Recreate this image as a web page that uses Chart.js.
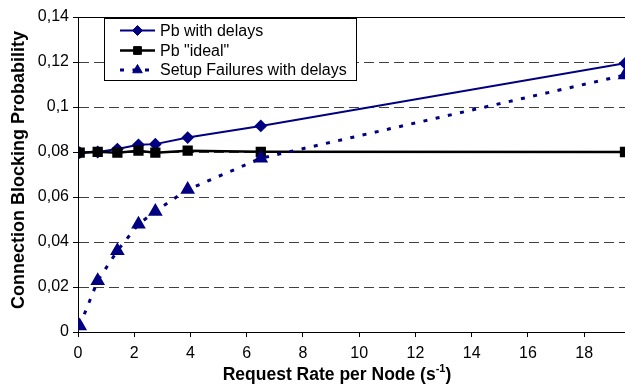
<!DOCTYPE html>
<html>
<head>
<meta charset="utf-8">
<script src="https://cdn.jsdelivr.net/npm/chart.js@4/dist/chart.umd.min.js"></script>
<style>
  html, body { margin: 0; padding: 0; background: #ffffff; }
  #wrap { width: 625px; height: 384px; }
</style>
</head>
<body>
<div id="wrap"><canvas id="chart" width="625" height="384"></canvas></div>
<script>
// Request rate per node (s^-1) for each measurement
const requestRate = [0.06, 0.7, 1.4, 2.15, 2.75, 3.9, 6.5, 19.45];
// Blocking probability with signalling delays
const pbWithDelays = [0.0797, 0.0800, 0.0813, 0.0832, 0.0835, 0.0864, 0.0916, 0.1194];
// Blocking probability, ideal signalling
const pbIdeal = [0.0797, 0.0801, 0.0797, 0.0806, 0.0797, 0.0806, 0.0801, 0.0800];
// Share of setups failing because of delays
const setupFailures = [0.0027, 0.0228, 0.0361, 0.0479, 0.0536, 0.0633, 0.0772, 0.1142];

const seriesNames = ['Pb with delays', 'Pb "ideal"', 'Setup Failures with delays'];
const xTickValues = [0, 2, 4, 6, 8, 10, 12, 14, 16, 18];
const yTickValues = [0, 0.02, 0.04, 0.06, 0.08, 0.1, 0.12, 0.14];
const yTickLabels = ['0', '0,02', '0,04', '0,06', '0,08', '0,1', '0,12', '0,14'];

const NAVY = '#000080';
const FONT = '"Liberation Sans", Arial, sans-serif';

const toPoints = (ys) => ys.map((y, i) => ({ x: requestRate[i], y }));

// Boxed legend, top frame line and the two axis titles
const decorations = {
  id: 'decorations',
  afterDatasetsDraw(chart) {
    const ctx = chart.ctx;
    const area = chart.chartArea;
    ctx.save();
    // solid frame line along the top of the plot
    ctx.strokeStyle = '#000';
    ctx.lineWidth = 1;
    ctx.beginPath();
    ctx.moveTo(area.left, Math.round(area.top) + 0.5);
    ctx.lineTo(area.right, Math.round(area.top) + 0.5);
    ctx.stroke();

    // legend box
    const bx = 104.5, by = 18.5, bw = 252, bh = 62;
    ctx.fillStyle = '#fff';
    ctx.fillRect(bx, by, bw, bh);
    ctx.strokeStyle = '#000';
    ctx.lineWidth = 1;
    ctx.strokeRect(bx, by, bw, bh);

    const rows = [30.5, 50.5, 70];
    chart.data.datasets.forEach((ds, i) => {
      const y = rows[i];
      ctx.save();
      ctx.strokeStyle = ds.borderColor;
      ctx.lineWidth = ds.borderWidth;
      ctx.setLineDash(ds.borderDash || []);
      ctx.beginPath();
      ctx.moveTo(120, y);
      ctx.lineTo(155, y);
      ctx.stroke();
      ctx.restore();
      ctx.fillStyle = ds.pointBackgroundColor;
      ctx.strokeStyle = ds.pointBorderColor;
      Chart.helpers.drawPoint(ctx, {
        pointStyle: ds.pointStyle, radius: ds.pointRadius, rotation: 0, borderWidth: 1
      }, 137.5, y);
      ctx.fillStyle = '#000';
      ctx.font = '16px ' + FONT;
      ctx.textAlign = 'left';
      ctx.textBaseline = 'middle';
      ctx.fillText(ds.label, 160, y + 1);
    });
    ctx.restore();
  },
  afterDraw(chart) {
    const ctx = chart.ctx;
    const area = chart.chartArea;
    ctx.save();
    ctx.fillStyle = '#000';
    ctx.textBaseline = 'middle';

    // y axis title
    ctx.save();
    ctx.translate(19, 170);
    ctx.rotate(-Math.PI / 2);
    ctx.font = 'bold 18px ' + FONT;
    ctx.textAlign = 'center';
    ctx.fillText('Connection Blocking Probability', 0, 0);
    ctx.restore();

    // x axis title with superscript unit
    const main = 'Request Rate per Node (s';
    const sup = '-1';
    const close = ')';
    const big = 'bold 17.5px ' + FONT;
    const small = 'bold 11px ' + FONT;
    ctx.font = big;
    const w1 = ctx.measureText(main).width;
    const w3 = ctx.measureText(close).width;
    ctx.font = small;
    const w2 = ctx.measureText(sup).width;
    const total = w1 + w2 + w3;
    const cx = 337;
    const ty = 375;
    let x = cx - total / 2;
    ctx.textAlign = 'left';
    ctx.font = big;
    ctx.fillText(main, x, ty);
    x += w1;
    ctx.font = small;
    ctx.fillText(sup, x, ty - 6);
    x += w2;
    ctx.font = big;
    ctx.fillText(close, x, ty);
    ctx.restore();
  }
};

new Chart(document.getElementById('chart'), {
  type: 'line',
  data: {
    datasets: [
      {
        label: seriesNames[0],
        data: toPoints(pbWithDelays),
        borderColor: NAVY,
        borderWidth: 2,
        pointStyle: 'rectRot',
        pointRadius: 5,
        pointBackgroundColor: NAVY,
        pointBorderColor: NAVY,
        order: 3
      },
      {
        label: seriesNames[1],
        data: toPoints(pbIdeal),
        borderColor: '#000',
        borderWidth: 2.5,
        pointStyle: 'rect',
        pointRadius: 5.5,
        pointBackgroundColor: '#000',
        pointBorderColor: '#000',
        order: 2
      },
      {
        label: seriesNames[2],
        data: toPoints(setupFailures),
        borderColor: NAVY,
        borderWidth: 3,
        borderDash: [4, 8.5],
        pointStyle: 'triangle',
        pointRadius: 5.5,
        pointBackgroundColor: NAVY,
        pointBorderColor: NAVY,
        order: 1
      }
    ]
  },
  options: {
    responsive: false,
    animation: false,
    devicePixelRatio: 1,
    layout: { autoPadding: false, padding: { top: 17, right: 0, bottom: 0, left: 0 } },
    plugins: { legend: { display: false }, tooltip: { enabled: false } },
    elements: { line: { tension: 0, fill: false }, point: { borderWidth: 1 } },
    scales: {
      x: {
        type: 'linear',
        min: 0,
        max: requestRate[requestRate.length - 1],
        afterBuildTicks(scale) { scale.ticks = xTickValues.map(v => ({ value: v })); },
        afterFit(scale) { scale.height = 52; },
        ticks: {
          color: '#000',
          font: { family: FONT, size: 16 },
          padding: 7,
          maxRotation: 0,
          callback: (v) => String(v)
        },
        grid: { drawOnChartArea: false, drawTicks: true, tickLength: 5, tickColor: '#000' },
        border: { display: true, color: '#000', width: 1 }
      },
      y: {
        min: 0,
        max: 0.14,
        afterBuildTicks(scale) { scale.ticks = yTickValues.map(v => ({ value: v })); },
        afterFit(scale) { scale.width = 78; },
        ticks: {
          color: '#000',
          font: { family: FONT, size: 16 },
          padding: 4,
          callback: (v, i) => yTickLabels[i]
        },
        grid: { color: '#404040', lineWidth: 1, drawTicks: true, tickLength: 5, tickColor: '#000' },
        border: { display: true, color: '#000', width: 1, dash: [10, 5] }
      }
    }
  },
  plugins: [decorations]
});
</script>
</body>
</html>
